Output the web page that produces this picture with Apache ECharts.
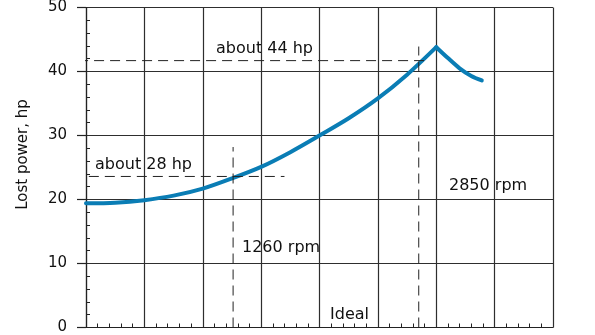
<!DOCTYPE html>
<html>
<head>
<meta charset="utf-8">
<script src="https://cdn.jsdelivr.net/npm/echarts@6/dist/echarts.min.js"></script>
<style>html,body{margin:0;padding:0;background:#fff}#c{width:595px;height:335px}</style>
</head>
<body>
<div id="c"></div>
<script>
// Data (rpm vs lost power in hp)
var riseRpm = [0, 250, 500, 750, 1000, 1250, 1500, 1750, 2000, 2250, 2500, 2750, 3000];
var riseHp  = [19.4, 19.5, 19.9, 20.6, 21.7, 23.3, 25.1, 27.4, 30.0, 32.7, 35.8, 39.5, 43.8];
var fallRpm = [3000, 3100, 3200, 3300, 3390];
var fallHp  = [43.8, 42.1, 40.5, 39.3, 38.6];
// Reference lines
var lowRpm = 1260, lowHp = 23.6;
var highRpm = 2850, highHp = 41.7;
var yTicks = [0, 10, 20, 30, 40, 50];
var labels = {
  yName: 'Lost power, hp',
  low: 'about 28 hp',
  high: 'about 44 hp',
  lowRpm: '1260 rpm',
  highRpm: '2850 rpm',
  ideal: 'Ideal'
};

function pairs(xs, ys){ return xs.map(function(x,i){ return [x, ys[i]]; }); }

var chart = echarts.init(document.getElementById('c'), null, {renderer:'canvas'});
var FONT = 'DejaVu Sans';
var GRID = '#2e2e2e';
var dash = {color:'#222', width:1, type:[10,6]};
var W = 595, GL = 86, GR = 42;

chart.setOption({
  animation:false,
  backgroundColor:'#fff',
  grid:{left:GL, right:GR, top:7.5, bottom:1.7, containLabel:false},
  xAxis:{
    type:'value', min:0, max:4000, interval:500,
    axisLine:{show:true, lineStyle:{color:'#222', width:1.2}},
    axisTick:{show:false, inside:true},
    minorTick:{show:true, splitNumber:5, length:4, lineStyle:{color:'#222', width:1}},
    axisLabel:{show:false},
    splitLine:{show:true, lineStyle:{color:GRID, width:1.2}}
  },
  yAxis:[{
    type:'value', min:yTicks[0], max:yTicks[yTicks.length-1], interval:10, position:'left',
    axisLine:{show:true, lineStyle:{color:'#222', width:1.2}},
    axisTick:{show:true, length:9, lineStyle:{color:'#222', width:1.2}},
    axisLabel:{show:true, margin:19, color:'#111', fontFamily:FONT, fontSize:15},
    splitLine:{show:true, lineStyle:{color:GRID, width:1.2}}
  },{
    type:'value', min:yTicks[0], max:yTicks[yTicks.length-1], interval:10, position:'right',
    offset: -(W - GL - GR),
    axisLine:{show:false},
    axisTick:{show:false, inside:false},
    minorTick:{show:true, splitNumber:5, length:4, lineStyle:{color:'#222', width:1}},
    axisLabel:{show:false},
    splitLine:{show:false}
  }],
  series:[
    {type:'line', data:pairs(riseRpm, riseHp), smooth:0.3, symbol:'none',
     lineStyle:{color:'#0a7db5', width:4, cap:'round'}},
    {type:'line', data:pairs(fallRpm, fallHp), smooth:0.3, symbol:'none',
     lineStyle:{color:'#0a7db5', width:4, cap:'round'}},
    {type:'line', data:[[-250, lowHp],[1700, lowHp]], symbol:'none', clip:false, lineStyle:dash},
    {type:'line', data:[[lowRpm, 0],[lowRpm, 28.2]], symbol:'none', clip:false, lineStyle:dash},
    {type:'line', data:[[-205, highHp],[2930, highHp]], symbol:'none', clip:false, lineStyle:dash},
    {type:'line', data:[[highRpm, 0],[highRpm, 43.9]], symbol:'none', clip:false, lineStyle:dash}
  ],
  graphic:[
    {type:'text', x:23, y:154.5, rotation:Math.PI/2, style:{text:labels.yName, font:'15px "'+FONT+'"', fill:'#111', textAlign:'center', textVerticalAlign:'middle'}},
    {type:'text', x:95, y:165, style:{text:labels.low, font:'16px "'+FONT+'"', fill:'#111', textAlign:'left', textVerticalAlign:'middle'}},
    {type:'text', x:216, y:48.5, style:{text:labels.high, font:'16px "'+FONT+'"', fill:'#111', textAlign:'left', textVerticalAlign:'middle'}},
    {type:'text', x:242, y:248, style:{text:labels.lowRpm, font:'16px "'+FONT+'"', fill:'#111', textAlign:'left', textVerticalAlign:'middle'}},
    {type:'text', x:449, y:186, style:{text:labels.highRpm, font:'16px "'+FONT+'"', fill:'#111', textAlign:'left', textVerticalAlign:'middle'}},
    {type:'text', x:330, y:315, style:{text:labels.ideal, font:'16px "'+FONT+'"', fill:'#111', textAlign:'left', textVerticalAlign:'middle'}}
  ]
});
</script>
</body>
</html>
